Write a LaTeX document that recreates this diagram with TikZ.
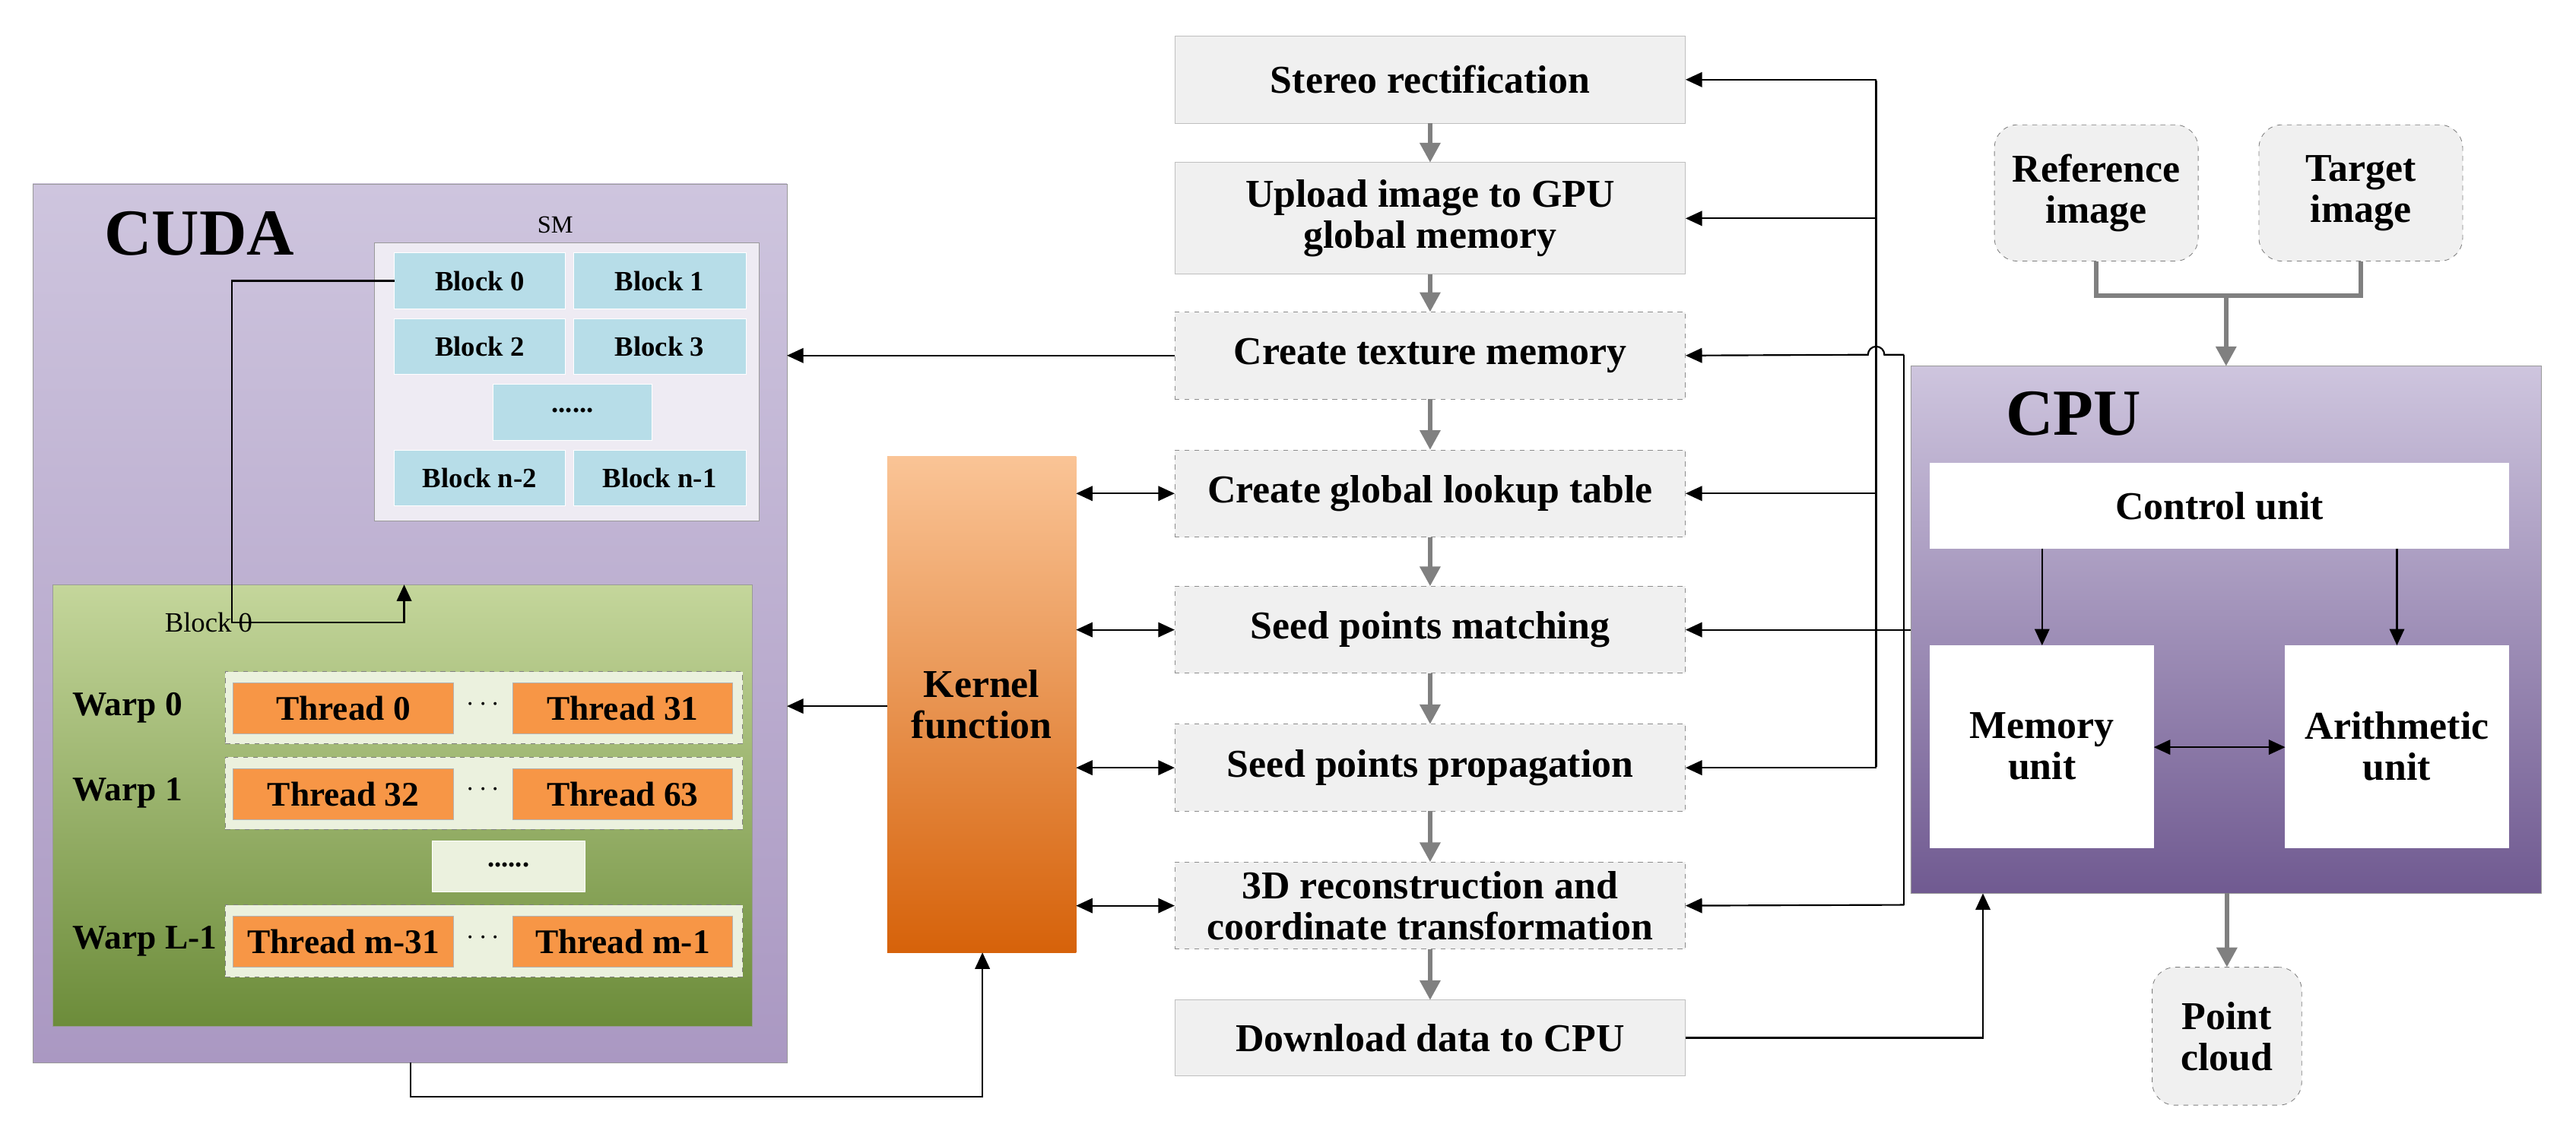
\documentclass[tikz,border=0pt]{standalone}
\usepackage{fontspec}
\setmainfont{Liberation Serif}
\usetikzlibrary{arrows.meta}
\begin{document}
\begin{tikzpicture}[x=1pt,y=-1pt,
  bx/.style={draw, inner sep=0pt, outer sep=0pt, anchor=north west, align=center, font=\bfseries\fontsize{24}{25}\selectfont},
  stp/.style={bx, fill=black!6, draw=black!25},
  dstp/.style={stp, draw=black!45, dashed},
  blk/.style={bx, fill={rgb,255:red,183;green,221;blue,232}, draw=white, font=\bfseries\fontsize{17}{19}\selectfont},
  thr/.style={bx, fill={rgb,255:red,247;green,150;blue,70}, draw=black!30, font=\bfseries\fontsize{21}{23}\selectfont},
  warp/.style={bx, fill={rgb,255:red,235;green,241;blue,222}, draw=black!50, dashed},
  wbox/.style={bx, fill=white, draw=white},
  rnd/.style={bx, fill=black!6, draw=black!50, dashed, rounded corners=14pt},
  ga/.style={draw=black!50, line width=3pt, -{Triangle[length=12pt,width=12pt]}},
  ba/.style={draw=black, line width=1pt, -{Triangle[length=10pt,width=9pt]}},
  bb/.style={draw=black, line width=1pt, {Triangle[length=10pt,width=9pt]}-{Triangle[length=10pt,width=9pt]}}
]
\useasboundingbox (0,0) rectangle (1568,692);
% ---------- centre column
\node[stp, minimum width=311, minimum height=53] (s1) at (715,22) {Stereo rectification};
\node[stp, minimum width=311, minimum height=68] (s2) at (715,99) {Upload image to GPU\\global memory};
\node[dstp, minimum width=311, minimum height=53] (s3) at (715,190) {Create texture memory};
\node[dstp, minimum width=311, minimum height=53] (s4) at (715,274) {Create global lookup table};
\node[dstp, minimum width=311, minimum height=53] (s5) at (715,357) {Seed points matching};
\node[dstp, minimum width=311, minimum height=53] (s6) at (715,441) {Seed points propagation};
\node[dstp, minimum width=311, minimum height=53] (s7) at (715,525) {3D reconstruction and\\coordinate transformation};
\node[stp, minimum width=311, minimum height=46] (s8) at (715,609) {Download data to CPU};
\foreach \a/\b in {s1/s2,s2/s3,s3/s4,s4/s5,s5/s6,s6/s7,s7/s8}
  \draw[ga] (\a.south) -- (\b.north);
% ---------- kernel
\node[bx, draw=none, top color={rgb,255:red,250;green,196;blue,150}, bottom color={rgb,255:red,214;green,98;blue,10}, minimum width=115, minimum height=302] (k) at (540,278) {Kernel\\function};
\foreach \s in {s4,s5,s6,s7} \draw[bb] (k.east |- \s.west) -- (\s.west);
% ---------- CUDA
\node[bx, draw=black!40, top color={rgb,255:red,206;green,197;blue,222}, bottom color={rgb,255:red,170;green,152;blue,194}, minimum width=459, minimum height=535] (cuda) at (20,112) {};
\node[font=\bfseries\fontsize{40}{42}\selectfont, anchor=west] (cudal) at (60,142) {CUDA};
\node[font=\fontsize{15}{17}\selectfont] (sml) at (338,137) {SM};
\node[bx, fill={rgb,255:red,238;green,235;blue,243}, draw=black!40, minimum width=234, minimum height=169] (sm) at (228,148) {};
\node[blk, minimum width=104, minimum height=34] (b0) at (240,154) {Block 0};
\node[blk, minimum width=105, minimum height=34] (b1) at (349,154) {Block 1};
\node[blk, minimum width=104, minimum height=34] (b2) at (240,194) {Block 2};
\node[blk, minimum width=105, minimum height=34] (b3) at (349,194) {Block 3};
\node[blk, minimum width=97, minimum height=34] (bd) at (300,234) {\raisebox{2pt}{......}};
\node[blk, minimum width=104, minimum height=34] (bn2) at (240,274) {Block n-2};
\node[blk, minimum width=105, minimum height=34] (bn1) at (349,274) {Block n-1};
\node[bx, draw=black!40, top color={rgb,255:red,196;green,214;blue,155}, bottom color={rgb,255:red,108;green,140;blue,58}, minimum width=426, minimum height=269] (grn) at (32,356) {};
\node[font=\fontsize{17}{19}\selectfont] (b0l) at (127,379) {Block 0};
\coordinate (c1) at (141,379);
\draw[ba] (b0.west) -| (c1) -| (grn.north -| 246,0);
\foreach \r/\y/\ta/\tb in {0/409/Thread 0/Thread 31, 1/461/Thread 32/Thread 63, L-1/551/Thread m-31/Thread m-1}{
  \node[warp, minimum width=315, minimum height=44] (w\r) at (137,\y) {};
  \node[bx, draw=none, anchor=west, font=\bfseries\fontsize{21}{23}\selectfont] (wl\r) at (44,\y+22) {Warp \r};
  \node[thr, minimum width=134, minimum height=31] (ta\r) at (142,\y+7) {\ta};
  \node[thr, minimum width=134, minimum height=31] (tb\r) at (312,\y+7) {\tb};
  \node[font=\bfseries\fontsize{16}{18}\selectfont] (td\r) at (294,\y+20) {$\cdots$};
}
\node[wbox, fill={rgb,255:red,235;green,241;blue,222}, minimum width=93, minimum height=31, font=\bfseries\fontsize{17}{19}\selectfont] (gd) at (263,512) {\raisebox{2pt}{......}};
% CUDA connections
\draw[ba] (s3.west) -- (cuda.east |- s3.west);
\draw[ba] (k.west |- 0,430) -- (cuda.east |- 0,430);
\coordinate (c2) at (250,668);
\draw[ba] (cuda.south -| c2) -- (c2) -| (k.south -| 598,0);
% ---------- right side lines
\coordinate (v1t) at (1142,49);
\coordinate (v1b) at (1142,467);
\draw[line width=1pt] (v1t) -- (v1b);
\foreach \s in {s1,s2,s4,s6} \draw[ba] (v1t |- \s.east) -- (\s.east);
\coordinate (v2t) at (1159,216);
\coordinate (v2b) at (1159,551);
\draw[line width=1pt] (v2b) -- (v2t);
\draw[ba] (v2t) -- (1147,216) arc (0:-180:5) -- (s3.east);
\draw[ba] (v2b) -- (s7.east);
% ---------- CPU
\node[bx, draw=black!40, top color={rgb,255:red,206;green,197;blue,222}, bottom color={rgb,255:red,112;green,90;blue,145}, minimum width=384, minimum height=321] (cpu) at (1163,223) {};
\node[font=\bfseries\fontsize{40}{42}\selectfont] (cpul) at (1262,252) {CPU};
\node[wbox, minimum width=352, minimum height=52] (cu) at (1175,282) {Control unit};
\node[wbox, minimum width=136, minimum height=123] (mu) at (1175,393) {Memory\\unit};
\node[wbox, minimum width=136, minimum height=123] (au) at (1391,393) {Arithmetic\\unit};
\draw[ba] (cu.south -| 1243,0) -- (mu.north -| 1243,0);
\draw[ba] (cu.south -| 1459,0) -- (au.north -| 1459,0);
\draw[bb] (mu.east |- 0,455) -- (au.west |- 0,455);
\draw[ba] (cpu.west |- s5.east) -- (s5.east);
\draw[ba] (s8.east) -| (cpu.south -| 1207,0);
\node[rnd, minimum width=124, minimum height=83] (ref) at (1214,76) {Reference\\image};
\node[rnd, minimum width=124, minimum height=83] (tgt) at (1375,76) {Target\\image};
\coordinate (j) at (1355,180);
\draw[draw=black!50, line width=3pt] (ref.south) |- (j) -| (tgt.south);
\draw[ga] (j) -- (cpu.north -| j);
\node[rnd, minimum width=91, minimum height=84] (pc) at (1310,589) {Point\\cloud};
\draw[ga] (cpu.south -| pc.north) -- (pc.north);
\end{tikzpicture}
\end{document}
